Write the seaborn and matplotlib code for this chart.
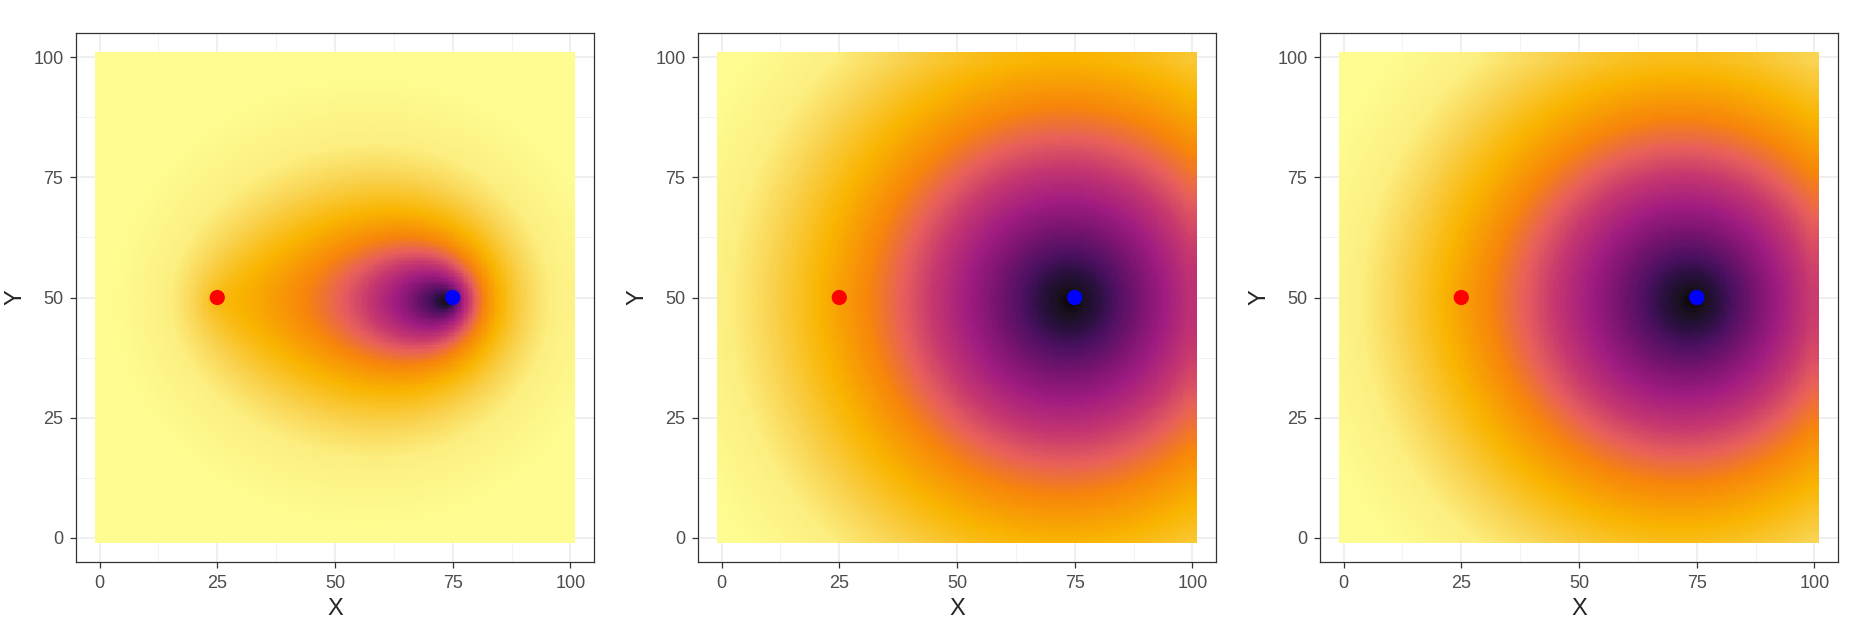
import numpy as np
import pandas as pd
import matplotlib
matplotlib.use("Agg")
import matplotlib.pyplot as plt
from matplotlib.colors import LinearSegmentedColormap
import seaborn as sns

# source points
red_pt = [25, 50]
blue_pt = [75, 50]

# grid of cells (0..100 in both directions, half-unit steps)
grid_vals = np.arange(0, 100.5, 0.5)

# per panel settings: weight of the detour via red, and how the cost is put
# onto the colour ramp
panel_detour = [1.55, 0.05, 0.10]
panel_scale = ["log", "linear", "linear"]

stop_vals = [0, 2.8, 6.3, 9.9, 16.2, 21.9, 29, 36.1, 43.1, 53.7, 65, 75, 90]
stop_colors = ["#0B0508", "#1A1020", "#2A1040", "#4A1060", "#7A1470", "#A01C80",
               "#C43570", "#E8605A", "#F7850A", "#F9B400", "#F9D24F", "#FCEE80",
               "#FEFC90"]

ticks = [0, 25, 50, 75, 100]
minor_ticks = [12.5, 37.5, 62.5, 87.5]

cmap = LinearSegmentedColormap.from_list(
    "heat", list(zip(np.array(stop_vals) / stop_vals[-1], stop_colors)))


def cost_field(x, y, detour, scale):
    d_b = np.hypot(x - blue_pt[0], y - blue_pt[1])
    d_r = np.hypot(x - red_pt[0], y - red_pt[1])
    d_rb = np.hypot(blue_pt[0] - red_pt[0], blue_pt[1] - red_pt[1])
    f = d_b + detour * (d_b + d_r - d_rb)
    if scale == "log":
        c = 38.7 * np.log1p(f / 15.0)
    else:
        c = f
    return np.clip(c, 0, stop_vals[-1])


gx, gy = np.meshgrid(grid_vals, grid_vals)
gx = gx.ravel()
gy = gy.ravel()

sns.set_style("white")
plt.rcParams["font.family"] = ["Liberation Sans", "DejaVu Sans"]

fig = plt.figure(figsize=(18.64, 6.42), dpi=100)
lefts = [76, 698, 1320]

for i in range(3):
    ax = fig.add_axes([lefts[i] / 1864, 80 / 642, 518 / 1864, 529 / 642])
    df = pd.DataFrame({"X": gx, "Y": gy,
                       "val": cost_field(gx, gy, panel_detour[i], panel_scale[i])})
    sns.scatterplot(data=df, x="X", y="Y", hue="val", palette=cmap,
                    hue_norm=(0, stop_vals[-1]), s=46, marker="s",
                    linewidth=0, legend=False, ax=ax, zorder=2)
    pts = pd.DataFrame({"X": [red_pt[0], blue_pt[0]], "Y": [red_pt[1], blue_pt[1]],
                        "who": ["red", "blue"]})
    sns.scatterplot(data=pts, x="X", y="Y", hue="who",
                    palette={"red": "#FF0000", "blue": "#0000FF"},
                    s=120, linewidth=0, legend=False, ax=ax, zorder=3)

    ax.set_xlim(-5, 105)
    ax.set_ylim(-5, 105)
    ax.set_xticks(ticks)
    ax.set_yticks(ticks)
    ax.set_xticks(minor_ticks, minor=True)
    ax.set_yticks(minor_ticks, minor=True)
    ax.grid(which="major", color="#EBEBEB", lw=1.1, zorder=0)
    ax.grid(which="minor", color="#F3F3F3", lw=0.7, zorder=0)
    ax.set_axisbelow(True)
    ax.tick_params(which="major", length=4, width=0.9, color="#333333",
                   labelsize=13, labelcolor="#4D4D4D", pad=5,
                   bottom=True, left=True)
    ax.tick_params(which="minor", length=0)
    for sp in ax.spines.values():
        sp.set_color("#333333")
        sp.set_linewidth(0.9)
    ax.set_xlabel("X", fontsize=17, labelpad=5)
    ax.set_ylabel("Y", fontsize=17, labelpad=5)

fig.savefig("out.png", dpi=100, facecolor="white")
